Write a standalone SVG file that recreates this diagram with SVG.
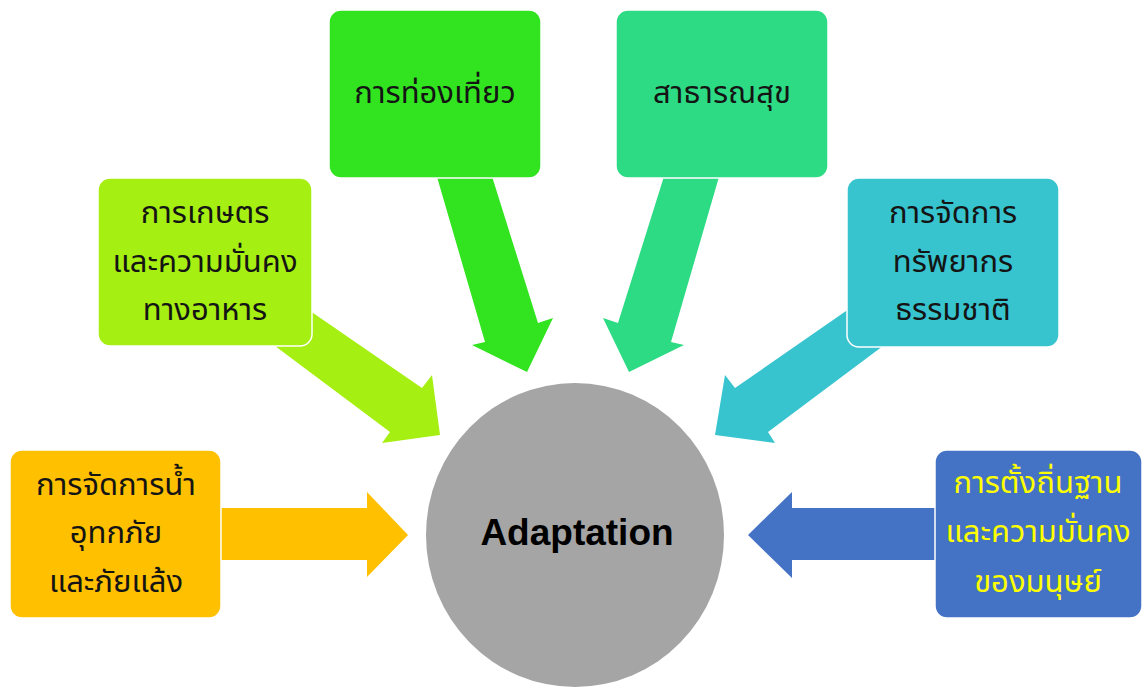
<svg xmlns="http://www.w3.org/2000/svg" width="1147" height="689" viewBox="0 0 1147 689">
  <style>
    .box { stroke: #ffffff; stroke-width: 1.5; }
    .lbl { font-family: "Noto Sans Thai", "Noto Sans", "DejaVu Sans", sans-serif; font-size: 31px; text-anchor: middle; fill: #141414; }
    .lbl.yellow { fill: #ffff00; }
    .hub { font-family: "Liberation Sans", Arial, sans-serif; font-size: 37px; font-weight: bold; text-anchor: middle; fill: #000000; }
  </style>
  <rect width="1147" height="689" fill="#ffffff"/>

  <!-- block arrows pointing into the central circle -->
  <g id="connectors">
    <polygon fill="#ffc000" points="215,508 367,508 367,492 408,535 367,577 367,560 215,560"/>
    <polygon fill="#a6ef12" points="287,295 422,388 432,375 440,435 382,443 390,432 255,331"/>
    <polygon fill="#32e320" points="435,170 490,170 538,323 553,318 527,372 472,345 485,342"/>
    <polygon fill="#2ddb84" points="721,170 666,170 618,323 603,318 629,372 684,345 671,342"/>
    <polygon fill="#37c4cf" points="872,293 735,388 725,375 715,435 775,443 768,432 903,331"/>
    <polygon fill="#4472c4" points="940,508 792,508 792,492 748,535 792,578 792,560 940,560"/>
  </g>

  <g id="hub">
    <ellipse cx="575" cy="535" rx="149" ry="152" fill="#a5a5a5"/>
    <text class="hub" x="577" y="545">Adaptation</text>
  </g>

  <g id="water">
    <rect class="box" x="10" y="450" width="211" height="168" rx="12" fill="#ffc000"/>
    <text class="lbl" x="116" y="495">การจัดการน้ำ</text>
    <text class="lbl" x="116" y="543">อุทกภัย</text>
    <text class="lbl" x="116" y="592">และภัยแล้ง</text>
  </g>

  <g id="agriculture">
    <rect class="box" x="98" y="178" width="214" height="168" rx="12" fill="#a6ef12"/>
    <text class="lbl" x="205" y="223">การเกษตร</text>
    <text class="lbl" x="205" y="272">และความมั่นคง</text>
    <text class="lbl" x="205" y="320">ทางอาหาร</text>
  </g>

  <g id="tourism">
    <rect class="box" x="329" y="10" width="212" height="168" rx="12" fill="#32e320"/>
    <text class="lbl" x="435" y="103">การท่องเที่ยว</text>
  </g>

  <g id="health">
    <rect class="box" x="616" y="10" width="212" height="168" rx="12" fill="#2ddb84"/>
    <text class="lbl" x="722" y="103">สาธารณสุข</text>
  </g>

  <g id="resources">
    <rect class="box" x="847" y="178" width="212" height="169" rx="12" fill="#37c4cf"/>
    <text class="lbl" x="953" y="223">การจัดการ</text>
    <text class="lbl" x="953" y="272">ทรัพยากร</text>
    <text class="lbl" x="953" y="320">ธรรมชาติ</text>
  </g>

  <g id="settlement">
    <rect class="box" x="935" y="450" width="207" height="168" rx="12" fill="#4472c4"/>
    <text class="lbl yellow" x="1038" y="493">การตั้งถิ่นฐาน</text>
    <text class="lbl yellow" x="1038" y="542">และความมั่นคง</text>
    <text class="lbl yellow" x="1038" y="592">ของมนุษย์</text>
  </g>
</svg>
